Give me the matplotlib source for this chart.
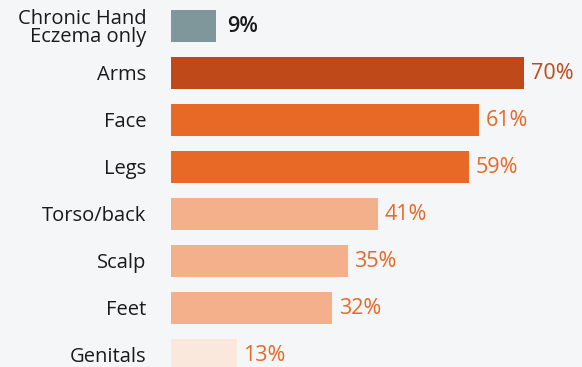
import matplotlib.pyplot as plt

# share of respondents reporting eczema at each body site
labels = ['Chronic Hand\nEczema only', 'Arms', 'Face', 'Legs',
          'Torso/back', 'Scalp', 'Feet', 'Genitals']
values = [9, 70, 61, 59, 41, 35, 32, 13]
bar_colors = ['#7f969a', '#c0491a', '#e86825', '#e86825',
              '#f3b08a', '#f3b08a', '#f3b08a', '#fbe8dc']
text_colors = ['#1a1a1a', '#c0491a', '#e86825', '#e86825',
               '#e86825', '#e86825', '#e86825', '#e86825']

bg = '#f5f6f8'
plt.rcParams['font.family'] = ['Open Sans', 'DejaVu Sans']

fig = plt.figure(figsize=(5.82, 3.67), dpi=100, facecolor=bg)
ax = fig.add_axes([171 / 582, 0, 411 / 582, 1])
ax.set_facecolor(bg)

pos = list(range(len(values)))
ax.barh(pos, values, height=0.68, color=bar_colors)

for i, v in enumerate(values):
    weight = 'semibold' if i == 0 else 'normal'
    pad = 8 if i == 0 else 5
    ax.annotate(f'{v}%', (v, i), xytext=(pad, -0.5), textcoords='offset points',
                va='center', ha='left', fontsize=15.5, color=text_colors[i],
                fontweight=weight)
    ax.annotate(labels[i], (0, i), xytext=(-17.5, -1.5), textcoords='offset points',
                va='center', ha='right', fontsize=14.5, color='#1a1a1a',
                linespacing=0.85)

ax.set_xlim(0, 81.5)
ax.set_ylim(7.255, -0.553)
ax.axis('off')

fig.savefig('out.png', dpi=100, facecolor=bg)
